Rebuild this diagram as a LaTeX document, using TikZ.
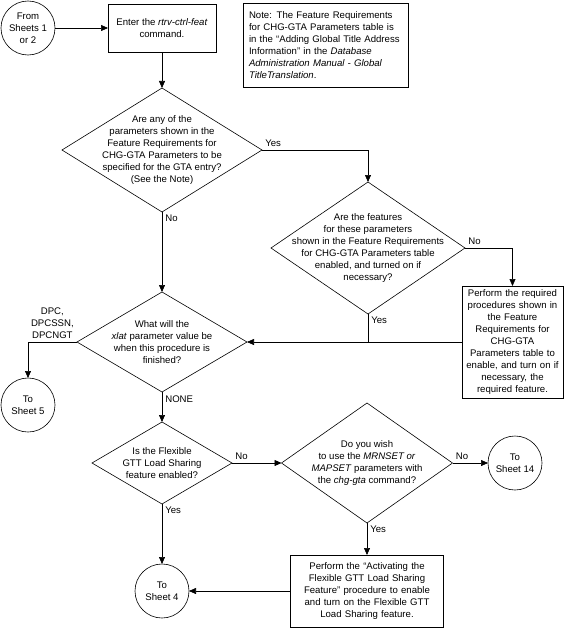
\documentclass[tikz,border=0pt]{standalone}
\usepackage{fontspec}
\setmainfont{Liberation Sans}
\usetikzlibrary{shapes.geometric,arrows.meta}
\tikzset{
	proc/.style={draw, rectangle, align=center, inner sep=3bp},
	notebox/.style={draw, rectangle, align=left, inner sep=6bp, text width=153bp, minimum height=84bp},
	decision/.style={draw, diamond, align=center, aspect=1.6, inner sep=-20bp},
	sheet/.style={draw, circle, align=center, inner sep=0pt, minimum size=54bp},
}
\begin{document}
\begin{tikzpicture}[font=\fontsize{9.6bp}{12bp}\selectfont, line width=0.6bp, outer sep=0pt, >={Triangle[length=7bp,width=6bp]}]
		\useasboundingbox (-28bp,28bp) rectangle (537bp,-603bp);
		\node (from) [sheet] {From\\Sheets 1\\or 2};
		\node (enter) [proc, right of=from, node distance=134bp, minimum width=108bp, minimum height=48bp] {Enter the \textit{rtrv-ctrl-feat}\\command.};
		\node (note) [notebox, right of=enter, node distance=163.5bp, yshift=-17bp] {Note: The Feature Requirements\\for CHG-GTA Parameters table is\\in the “Adding Global Title Address\\Information” in the \textit{Database}\\\textit{Administration Manual - Global}\\\textit{TitleTranslation}.};
		\draw[->] (from) -- (enter);
		
		\node (params) [decision, below of=enter, node distance=122bp, minimum width=200bp, minimum height=124bp] {Are any of the\\parameters shown in the\\Feature Requirements for\\CHG-GTA Parameters to be\\specified for the GTA entry?\\(See the Note)};
		\draw[->] (enter) -- (params);
		
		\node (feat) [decision, right of=params, node distance=206bp, yshift=-98bp, minimum width=194bp, minimum height=132bp] {Are the features\\for these parameters\\shown in the Feature Requirements\\for CHG-GTA Parameters table\\enabled, and turned on if\\necessary?};
		\draw[->] (params.east) -| node[pos=0, above right]{Yes} (feat.north);
		
		\node (required) [proc, right of=feat, node distance=144.5bp, yshift=-94bp, text width=95bp, minimum height=112bp] {Perform the required\\procedures shown in\\the Feature\\Requirements for\\CHG-GTA\\Parameters table to\\enable, and turn on if\\necessary, the\\required feature.};
		\draw[->] (feat.east) -| node[pos=0, above right]{No} (required.north);
		
		\node (xlat) [decision, below of=params, node distance=192bp, minimum width=170bp, minimum height=100bp] {What will the\\\textit{xlat} parameter value be\\when this procedure is\\finished?};
		\draw[->] (params.south) -- node[pos=0, below right]{No} (xlat.north);
		\draw (feat.south) -- node[pos=0, below right]{Yes} (feat.south |- xlat.east);
		\draw[->] (required.west) -- (xlat.east);
		
		\node (sheetfive) [sheet, left of=xlat, node distance=134bp, yshift=-63bp] {To\\Sheet 5};
		\draw[->] (xlat.west) -| node[pos=0, above left, align=center]{DPC,\\DPCSSN,\\DPCNGT} (sheetfive.north);
		
		\node (flex) [decision, below of=xlat, node distance=121bp, minimum width=140bp, minimum height=82bp] {Is the Flexible\\GTT Load Sharing\\feature enabled?};
		\draw[->] (xlat.south) -- node[pos=0, below right]{NONE} (flex.north);
		
		\node (mrnset) [decision, right of=flex, node distance=205bp, minimum width=171bp, minimum height=120bp] {Do you wish\\to use the \textit{MRNSET or}\\\textit{MAPSET} parameters with\\the \textit{chg-gta} command?};
		\draw[->] (flex.east) -- node[pos=0, above right]{No} (mrnset.west);
		
		\node (sheetfourteen) [sheet, right of=mrnset, node distance=148bp] {To\\Sheet 14};
		\draw[->] (mrnset.east) -- node[pos=0, above right]{No} (sheetfourteen.west);
		
		\node (activate) [proc, below of=mrnset, node distance=128bp, text width=147bp, minimum height=72bp] {Perform the “Activating the\\Flexible GTT Load Sharing\\Feature” procedure to enable\\and turn on the Flexible GTT\\Load Sharing feature.};
		\draw[->] (mrnset.south) -- node[pos=0, below right]{Yes} (activate.north);
		
		\node (sheetfour) [sheet, below of=flex, node distance=128bp] {To\\Sheet 4};
		\draw[->] (flex.south) -- node[pos=0, below right]{Yes} (sheetfour.north);
		\draw[->] (activate.west) -- (sheetfour.east);
		
		\end{tikzpicture}
\end{document}
